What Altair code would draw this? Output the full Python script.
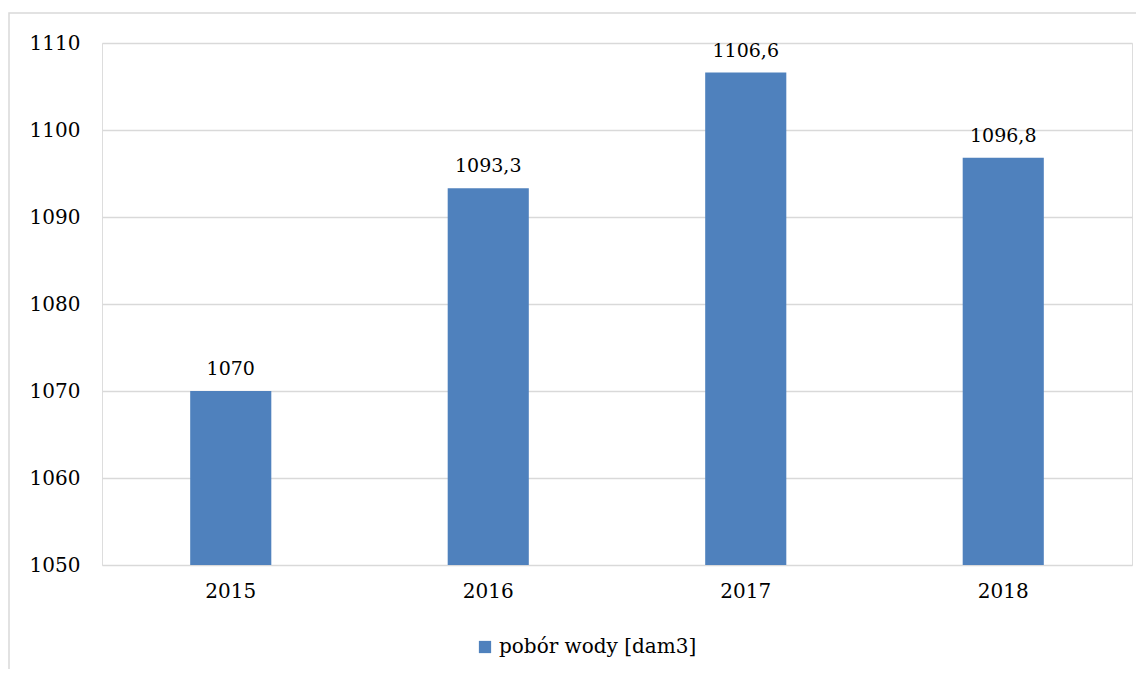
import altair as alt
import pandas as pd

years = ["2015", "2016", "2017", "2018"]
values = [1070.0, 1093.3, 1106.6, 1096.8]
labels = ["1070", "1093,3", "1106,6", "1096,8"]
series = "pobór wody [dam3]"
y_ticks = [1050, 1060, 1070, 1080, 1090, 1100, 1110]

df = pd.DataFrame({"rok": years, "wartosc": values, "etykieta": labels, "seria": [series] * len(years)})

FONT = "DejaVu Serif"
BLUE = "#4F81BD"
GRID = "#d9d9d9"

base = alt.Chart(df)

x_enc = alt.X(
    "rok:N",
    title=None,
    sort=years,
    scale=alt.Scale(paddingInner=0.685, paddingOuter=0.3425),
    axis=alt.Axis(labelAngle=0, labelFont=FONT, labelFontSize=20, labelColor="#000000",
                  labelPadding=16, ticks=False, domain=False, grid=False),
)

bars = base.mark_bar(color=BLUE).encode(
    x=x_enc,
    y=alt.Y(
        "wartosc:Q",
        title=None,
        scale=alt.Scale(domain=[1050, 1110], nice=False, zero=False),
        axis=alt.Axis(values=y_ticks, format="d", labelFont=FONT, labelFontSize=20, labelColor="#000000",
                      labelPadding=22, ticks=False, domain=False, grid=True,
                      gridColor=GRID, gridWidth=1.5),
    ),
    y2=alt.datum(1050),
    color=alt.Color(
        "seria:N",
        scale=alt.Scale(range=[BLUE]),
        legend=alt.Legend(title=None, orient="none", legendX=373, legendY=594,
                          symbolType="square", symbolSize=150, symbolStrokeWidth=0,
                          labelFont=FONT, labelFontSize=20, labelColor="#000000",
                          labelOffset=4, labelLimit=400),
    ),
)

text = base.mark_text(font=FONT, fontSize=19, color="#000000", baseline="alphabetic", dy=-16).encode(
    x=alt.X("rok:N", sort=years),
    y=alt.Y("wartosc:Q"),
    text="etykieta:N",
)

frame = alt.Chart(pd.DataFrame({"f": [0]})).mark_rect(
    fill=None, stroke=GRID, strokeWidth=1.5
).encode(
    x=alt.value(-93), x2=alt.value(1200), y=alt.value(-30), y2=alt.value(800)
)

chart = alt.layer(frame, bars, text).properties(
    width=1030,
    height=522,
    autosize=alt.AutoSizeParams(type="none"),
    padding={"left": 94, "top": 35, "right": 4, "bottom": 104},
).configure_view(stroke=None).configure(background="white")

chart.save("out.html", embed_options={"renderer": "svg", "actions": False})
